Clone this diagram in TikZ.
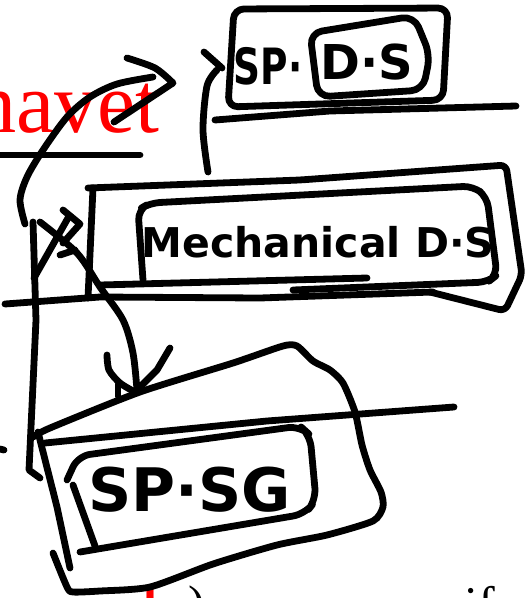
\documentclass[tikz,border=0pt]{standalone}
\usepackage{fontspec}
\setmainfont{Liberation Serif}
\newfontfamily\hand{DejaVu Sans}
\begin{document}
\begin{tikzpicture}[x=1pt,y=-1pt,
  pen/.style={draw=black, line width=6.8pt, line cap=round, line join=round},
  hw/.style={inner sep=0pt, text=black}]
\clip (0,0) rectangle (532,598);
\fill[white] (0,0) rectangle (532,598);

% background slide text (partly visible)
\node[anchor=base east, text=red, inner sep=0pt, font=\fontsize{86}{90}\selectfont] (title) at (160,132) {havet};
\node[anchor=base west, text=red, inner sep=0pt, font=\bfseries\fontsize{50}{54}\selectfont] (redl) at (143,622) {l};
\node[anchor=base west, text=black, inner sep=0pt, font=\fontsize{50}{54}\selectfont] (paren) at (188,620) {)};
\node[anchor=base west, text=black, inner sep=0pt, font=\fontsize{50}{54}\selectfont] (iff) at (464,621) {if};

% underline of title
\draw[pen] (0,155) -- (140,155);

% ---- top box SP.D.S ----
\draw[pen, rounded corners=10pt] (228,107) -- (234,9) -- (448,8) -- (443,100) -- cycle;
\draw[pen, rounded corners=12pt] (318,97) -- (310,33) -- (414,16) -- (430,55) -- (423,90) -- cycle;
\draw[pen] (215,120) -- (330,111) -- (516,106);
\node[hw, font=\hand\bfseries\fontsize{50}{54}\selectfont] (sp1) at (268,66) {\scalebox{0.75}[1]{SP·}};
\node[hw, font=\hand\bfseries\fontsize{48}{52}\selectfont] (ds) at (367,62) {D·S};
\draw[pen] (204,52) -- (222,68);
\draw[pen] plot[smooth] coordinates {(217,70) (207,86) (203,130) (208,172)};

% ---- middle box Mechanical D.S ----
\draw[pen, rounded corners=6pt] (88,188) -- (300,180) -- (506,165) -- (522,275) -- (505,311) -- (430,292);
\draw[pen] (93,188) -- (88,298);
\draw[pen] (5,304) -- (100,297) -- (260,298) -- (433,292);
\draw[pen] (100,285) -- (367,278);
\draw[pen, rounded corners=10pt] (143,280) -- (138,210) -- (150,203) -- (473,186) -- (487,197) -- (497,275) -- (488,282) -- (293,290);
\node[hw, font=\hand\bfseries\fontsize{41}{45}\selectfont] (mech) at (318,242) {Mechanical D·S};

% ---- bottom box SP.SG ----
\draw[pen] plot[smooth, tension=0.4] coordinates {(33,437) (50,428) (140,392) (233,363) (283,346) (297,346) (313,361) (330,370) (343,383) (355,412) (362,445) (370,470) (381,492) (383,507) (373,521) (327,535) (277,545) (213,564) (150,587) (100,591) (73,592) (67,587) (53,553)};
\draw[pen] (38,432) -- (57,507) -- (70,568);
\draw[pen] (45,443) -- (267,421) -- (454,407);
\draw[pen, rounded corners=12pt] (67,480) -- (78,456) -- (300,426) -- (310,435) -- (316,500) -- (305,514) -- (80,552);
\draw[pen] (73,485) -- (95,546);
\node[hw, font=\hand\bfseries\fontsize{60}{64}\selectfont] (spsg) at (190,490) {SP·SG};

% ---- connectors ----
\draw[pen] plot[smooth] coordinates {(25,224) (20,200) (27,177) (43,150) (67,117) (90,97) (117,84) (153,77)};
\draw[pen] plot[smooth] coordinates {(127,58) (155,68) (173,83)} -- (114,122);

\draw[pen] (33,222) -- (36,320) -- (29,470) -- (40,478);
\draw[pen] plot[smooth] coordinates {(40,222) (77,253) (100,287) (123,320) (133,353) (137,390)};
\draw[pen] plot[smooth] coordinates {(107,355) (109,370) (120,383) (135,392)} -- (157,370) -- (170,348);
\draw[pen] (118,384) -- (118,396);
\draw[pen] (63,210) -- (80,224) -- (63,243);
\draw[pen] (34,278) -- (68,218);
\draw[pen] (60,255) -- (75,250);
\draw[pen] (0,449) -- (4,450);
\end{tikzpicture}
\end{document}
